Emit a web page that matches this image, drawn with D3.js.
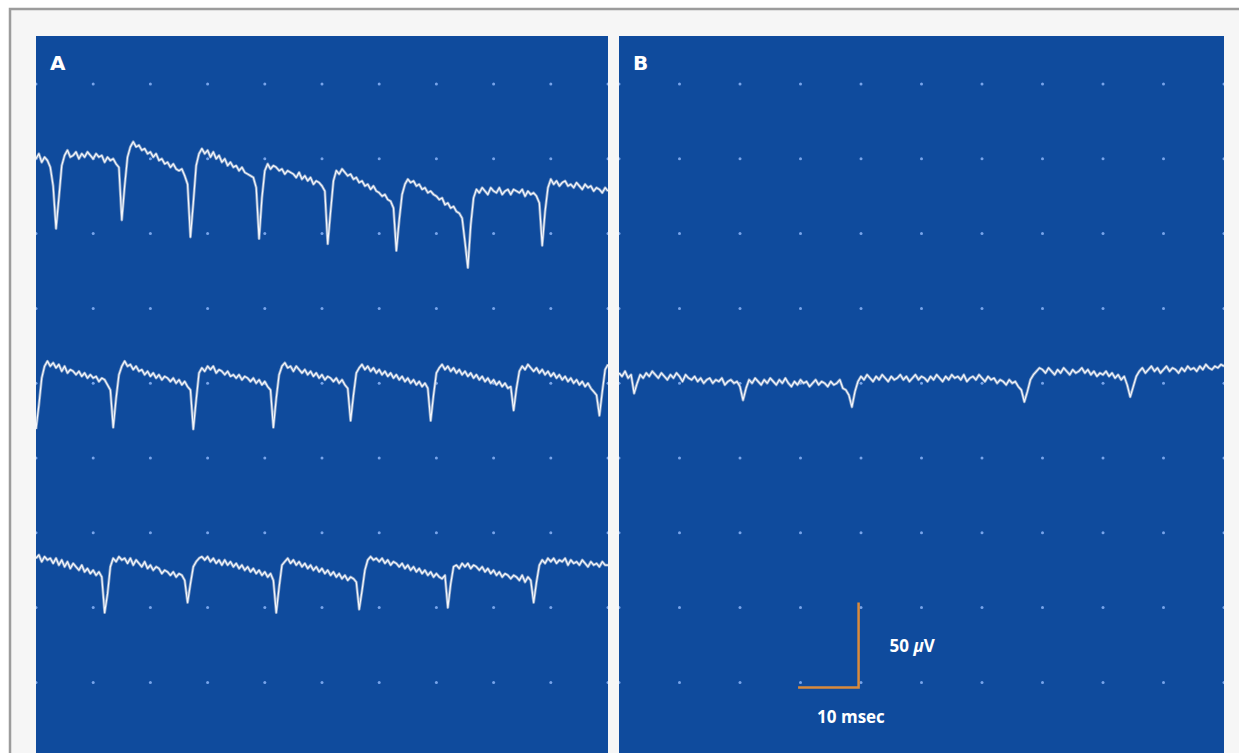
<!DOCTYPE html>
<html>
<head>
<meta charset="utf-8">
<script src="https://cdn.jsdelivr.net/npm/d3@7"></script>
<style>
  html, body { margin: 0; padding: 0; background: #ffffff; }
  svg { display: block; }
</style>
</head>
<body>
<script>
const width = 1239;
const height = 753;

// sample spacing of the recordings (ms)
const sampleMs = 0.5;

// grid: one dot every 10 ms across, one row every 44 uV down
const timeTicks = [0, 10, 20, 30, 40, 50, 60, 70, 80, 90, 100];
const gridRows = [0, -44, -88, -132, -176, -220, -264, -308, -352];

// panel A, top sweep (uV, every 0.5 ms)
const traceA1 = [
  1, 4, -1, 2, 0, -4, -15, -40, -22, -3,
  3, 6, 2, 3, 5, 1, 4, 2, 5, 3,
  1, 4, 2, 3, -1, 2, 0, 1, -2, -4,
  -35, -15, 2, 8, 11, 8, 9, 6, 7, 4,
  5, 2, 4, 0, 1, -2, -1, -4, -2, -5,
  -6, -5, -9, -14, -45, -25, -3, 4, 7, 4,
  6, 2, 5, 1, 3, -1, 1, -3, -1, -4,
  -3, -6, -4, -7, -8, -9, -10, -16, -46, -22,
  -6, -2, -5, -3, -4, -6, -5, -8, -6, -7,
  -8, -10, -7, -11, -9, -12, -10, -14, -12, -13,
  -15, -18, -49, -30, -12, -6, -8, -5, -7, -9,
  -8, -11, -10, -13, -12, -15, -14, -17, -15, -18,
  -19, -21, -20, -23, -24, -28, -53, -35, -20, -14,
  -11, -13, -12, -15, -14, -17, -16, -19, -18, -20,
  -21, -23, -22, -26, -25, -28, -27, -30, -31, -34,
  -48, -63, -38, -22, -17, -19, -16, -18, -20, -16,
  -18, -19, -16, -20, -18, -17, -20, -17, -18, -19,
  -17, -21, -18, -20, -19, -21, -25, -50, -30, -16,
  -11, -14, -12, -15, -13, -12, -15, -14, -16, -13,
  -15, -17, -14, -16, -15, -18, -16, -17, -19, -16,
  -18
];

// panel A, middle sweep
const traceA2 = [
  -32, -18, -2, 5, 8, 5, 7, 4, 6, 2,
  5, 1, 3, 2, 0, 2, -1, 1, -2, 0,
  -2, -1, -4, -2, -3, -6, -9, -31, -14, 0,
  5, 8, 5, 6, 3, 5, 2, 3, 0, 2,
  -1, 1, -2, 0, -3, -1, -2, -4, -2, -5,
  -3, -6, -4, -7, -9, -32, -15, 1, 4, 2,
  5, 3, 5, 1, 3, 2, 0, 2, -1, 0,
  -2, 0, -3, -1, -2, -4, -2, -5, -3, -6,
  -4, -7, -9, -31, -14, 0, 5, 7, 4, 5,
  2, 5, 3, 1, 3, 0, 2, -1, 1, -2,
  0, -3, -1, -2, -4, -2, -5, -3, -6, -8,
  -27, -12, 1, 4, 6, 3, 5, 2, 4, 1,
  3, 0, 2, -1, 1, -2, 0, -3, -1, -4,
  -2, -5, -3, -6, -4, -7, -5, -8, -27, -12,
  1, 4, 6, 3, 5, 2, 4, 1, 3, 0,
  2, -1, 1, -2, 0, -3, -1, -4, -2, -5,
  -3, -6, -4, -7, -5, -8, -7, -21, -8, 2,
  5, 3, 6, 4, 2, 4, 1, 3, 0, 2,
  -1, 1, -2, 0, -3, -1, -4, -2, -5, -3,
  -6, -4, -7, -5, -8, -10, -12, -24, -10, 3,
  6
];

// panel A, bottom sweep
const traceA3 = [
  1, 3, -1, 2, 0, 1, -2, 1, -3, 0,
  -4, -1, -5, -2, -4, -6, -3, -7, -5, -8,
  -6, -9, -7, -10, -31, -20, -4, 1, -1, 2,
  0, 1, -2, 1, -3, 0, -2, -4, -1, -5,
  -3, -6, -4, -5, -8, -6, -7, -9, -7, -10,
  -8, -9, -12, -25, -14, -4, -1, 1, 2, 0,
  2, -1, 1, -2, 0, -3, 0, -3, -1, -4,
  -2, -5, -3, -6, -4, -7, -5, -8, -6, -9,
  -7, -10, -8, -12, -31, -16, -3, -1, 1, -2,
  0, -3, -1, -4, -2, -5, -3, -6, -4, -7,
  -5, -8, -6, -9, -7, -10, -8, -11, -9, -12,
  -10, -11, -13, -29, -18, -6, 0, 2, 0, 1,
  -1, 1, -2, 0, -3, -1, -2, -4, -2, -5,
  -3, -6, -4, -7, -5, -8, -6, -9, -7, -10,
  -8, -10, -11, -9, -28, -14, -4, -3, -5, -2,
  -4, -2, -5, -3, -4, -6, -4, -7, -5, -8,
  -6, -9, -7, -10, -8, -9, -11, -9, -10, -12,
  -9, -13, -10, -12, -25, -13, -3, 0, -2, 1,
  -1, 1, -2, 0, -1, 1, -3, 0, -2, -1,
  -3, 0, -2, -4, -1, -3, -2, -4, -1, -3,
  -3
];

// panel B, single sweep
const traceB1 = [
  4, 2, 5, 1, 3, -8, -2, 3, 1, 4,
  2, 5, 3, 1, 4, 2, 0, 3, 1, 4,
  2, -1, 3, 1, 0, 2, -1, 1, -2, 0,
  1, -2, 0, -1, 1, -3, -1, 0, -2, -1,
  -4, -12, -5, 0, -2, 1, -1, -3, 0, -2,
  1, -1, -3, 0, -2, 1, -2, -4, -1, -3,
  0, -2, -1, -4, -2, 0, -3, -1, -2, -4,
  -1, -3, -2, 0, -5, -6, -9, -16, -7, -1,
  2, 0, 3, 1, -1, 2, 0, 3, 1, -1,
  2, 0, 1, 3, 0, 2, -1, 1, 3, 0,
  2, 1, -1, 2, 0, 3, 1, -1, 2, 0,
  3, 1, 2, 0, 3, -1, 1, 2, 0, 3,
  1, -1, 2, 0, 1, -2, 0, -1, -3, 0,
  -2, -1, -4, -6, -13, -7, 0, 3, 5, 7,
  6, 4, 7, 5, 3, 6, 4, 7, 5, 3,
  6, 4, 5, 7, 4, 6, 3, 5, 2, 4,
  3, 5, 2, 4, 1, 3, 0, 2, -3, -10,
  -4, 2, 5, 7, 4, 6, 8, 5, 7, 4,
  6, 8, 5, 7, 6, 4, 7, 5, 8, 6,
  7, 5, 8, 6, 9, 7, 6, 8, 7, 9,
  8
];

// where each sweep sits on the screen (uV below the top grid row)
const sweepsA = [traceA1, traceA2, traceA3];
const offsetsA = [-45, -171, -280];
const sweepsB = [traceB1];
const offsetsB = [-174];

// calibration bar
const barMs = 10;
const barUv = 50;
const barStartMs = 29.6;
const barBottomUv = -355;

const panels = [
  { name: "A", x0: 36, x1: 608, sweeps: sweepsA, offsets: offsetsA },
  { name: "B", x0: 619, x1: 1224, sweeps: sweepsB, offsets: offsetsB }
];

const svg = d3.select("body")
  .append("svg")
  .attr("width", width)
  .attr("height", height)
  .style("font-family", "'Open Sans', 'DejaVu Sans', sans-serif");

// outer frame
svg.append("rect")
  .attr("x", 10).attr("y", 9)
  .attr("width", width + 20).attr("height", height + 20)
  .attr("fill", "#f6f6f6")
  .attr("stroke", "#9c9c9c")
  .attr("stroke-width", 2.5);

const yScale = d3.scaleLinear()
  .domain([0, -400])
  .range([84, 84 + 680]);

const line = d3.line()
  .curve(d3.curveLinear);

let barScale = null;

panels.forEach((p, pi) => {
  const xScale = d3.scaleLinear()
    .domain([0, 100])
    .range([p.x0, p.x1]);
  if (p.name === "B") barScale = xScale;

  const g = svg.append("g");

  const clipId = "clip" + pi;
  svg.append("clipPath").attr("id", clipId)
    .append("rect")
    .attr("x", p.x0).attr("y", 36)
    .attr("width", p.x1 - p.x0).attr("height", height - 36);

  g.append("rect")
    .attr("x", p.x0).attr("y", 36)
    .attr("width", p.x1 - p.x0).attr("height", height - 36)
    .attr("fill", "#0f4b9d");

  // grid dots
  const dots = [];
  gridRows.forEach(r => timeTicks.forEach(t => dots.push({ t, r })));
  g.append("g")
    .attr("clip-path", `url(#${clipId})`)
    .selectAll("circle")
    .data(dots)
    .join("circle")
    .attr("cx", d => xScale(d.t))
    .attr("cy", d => yScale(d.r))
    .attr("r", 1.5)
    .attr("fill", "#78a4ea");

  // sweeps: soft grey halo under a thin white trace
  p.sweeps.forEach((vals, si) => {
    const off = p.offsets[si];
    const pts = vals.map((v, i) => [xScale(i * sampleMs), yScale(off + v)]);
    const tg = g.append("g").attr("clip-path", `url(#${clipId})`);
    tg.append("path")
      .attr("d", line(pts))
      .attr("fill", "none")
      .attr("stroke", "#aebbd2")
      .attr("stroke-opacity", 0.75)
      .attr("stroke-width", 2.8)
      .attr("stroke-linejoin", "round");
    tg.append("path")
      .attr("d", line(pts))
      .attr("fill", "none")
      .attr("stroke", "#f4f7fc")
      .attr("stroke-width", 1.2)
      .attr("stroke-linejoin", "round");
  });

  g.append("text")
    .attr("x", p.x0 + 14)
    .attr("y", 70)
    .attr("fill", "#ffffff")
    .attr("font-size", 20)
    .attr("font-weight", "bold")
    .style("font-family", "'DejaVu Sans', sans-serif")
    .text(p.name);
});

// calibration bar in panel B
const bx0 = barScale(barStartMs);
const bx1 = barScale(barStartMs + barMs);
const by0 = yScale(barBottomUv);
const by1 = yScale(barBottomUv + barUv);

svg.append("path")
  .attr("d", `M${bx0},${by0}H${bx1}V${by1}`)
  .attr("fill", "none")
  .attr("stroke", "#d98a3c")
  .attr("stroke-width", 2.5);

const uvLabel = svg.append("text")
  .attr("x", bx1 + 31)
  .attr("y", (by0 + by1) / 2 + 7)
  .attr("fill", "#ffffff")
  .attr("font-size", 17)
  .attr("font-weight", "bold");
uvLabel.append("tspan").text(barUv + " ");
uvLabel.append("tspan").attr("font-style", "italic").text("\u00b5");
uvLabel.append("tspan").text("V");

svg.append("text")
  .attr("x", bx0 + 19)
  .attr("y", by0 + 35)
  .attr("fill", "#ffffff")
  .attr("font-size", 17)
  .attr("font-weight", "bold")
  .text(barMs + " msec");
</script>
</body>
</html>
